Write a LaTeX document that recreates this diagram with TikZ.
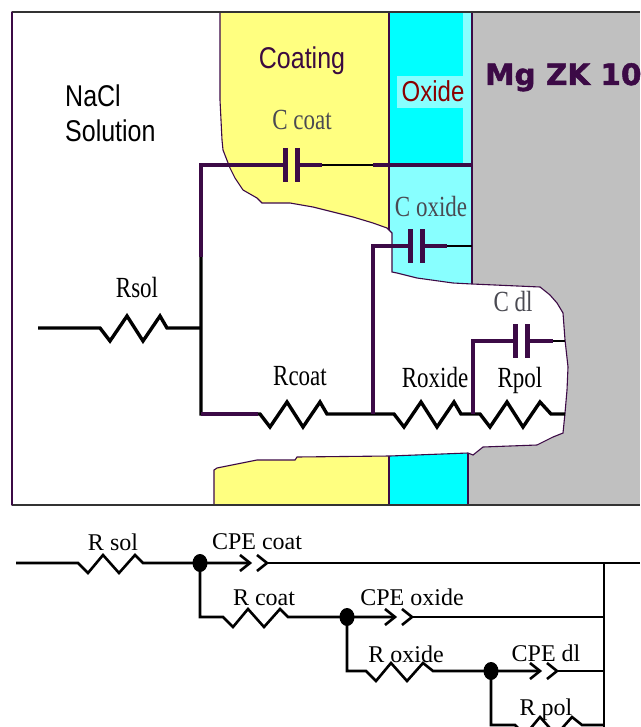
\documentclass[tikz,border=0pt]{standalone}
\usepackage{fontspec}
\usepackage{graphicx}
\usetikzlibrary{shapes.geometric}
\newfontfamily\sansf{Liberation Sans}
\newfontfamily\serf{Liberation Serif}
\newfontfamily\heavyf{DejaVu Sans}[BoldFeatures={FakeBold=1.6}]
% taller-than-wide lettering used in the cross-section
\newcommand\stretchy[2][1.27]{\scalebox{1}[#1]{#2}}
\definecolor{wirep}{HTML}{3C0A46}
\definecolor{coatY}{HTML}{FFFF80}
\definecolor{oxC}{HTML}{00FFFF}
\definecolor{oxL}{HTML}{88FFFF}
\definecolor{metal}{HTML}{C0C0C0}
\definecolor{labgray}{HTML}{4A4A52}
\definecolor{oxtext}{HTML}{8B0000}
\definecolor{coattext}{HTML}{3A0A40}
\begin{document}
\begin{tikzpicture}[x=1pt,y=-1pt,
  bwire/.style={line width=3.4pt, black},
  pwire/.style={line width=4.6pt, wirep},
  twire/.style={line width=2.2pt, black},
  plate/.style={line width=5pt, wirep},
  lwire/.style={line width=2.6pt, black, line join=miter},
  edge/.style={line width=1.1pt, wirep},
  topzig/.style={to path={-- ++(10,13) -- ++(17,-25) -- ++(16,25) -- ++(17,-25) -- (\tikztotarget)}},
  botzig/.style={to path={-- ++(10,10) -- ++(15,-18) -- ++(16,18) -- ++(16,-18) -- (\tikztotarget)}},
  rlab/.style={anchor=base, inner sep=0pt, font=\serf\fontsize{23}{25}\selectfont},
  clab/.style={rlab, text=labgray},
  slab/.style={inner sep=0pt, font=\sansf\fontsize{25}{27}\selectfont},
  blab/.style={anchor=base, inner sep=0pt, font=\serf\fontsize{24}{26}\selectfont},
  dot/.style={fill=black, ellipse, minimum width=15pt, minimum height=18pt, inner sep=0pt},
  capac/.pic={
    \draw[plate] (-6,-17) -- (-6,17);
    \draw[plate] (6,-17) -- (6,17);
    \coordinate (-l) at (-6,0);
    \coordinate (-r) at (6,0);
  },
  cpe/.pic={
    \draw[lwire] (-10,-8) -- (0,0) -- (-10,8);
    \draw[lwire] (7,-8) -- (17,0) -- (7,8);
    \coordinate (-l) at (0,0);
    \coordinate (-r) at (17,0);
  }
]
\useasboundingbox (0,0) rectangle (640,727);
\fill[white] (0,0) rectangle (640,727);

% ---------- cross-section: layers ----------
\fill[metal] (468,12) rectangle (640,505);
\fill[coatY] (214,12) rectangle (389,505);
\fill[oxC] (389,12) rectangle (463,165);
\fill[oxL] (463,12) rectangle (472,165);
\fill[oxL] (389,165) rectangle (472,300);
\fill[oxC] (389,430) rectangle (468,505);
\fill[oxL] (397,76) rectangle (470,108);
\draw[edge] (389,12) -- (389,505);
\draw[edge] (472,12) -- (472,300);
\draw[edge] (468,430) -- (468,505);

% ---------- the pit in coating, oxide and metal ----------
\filldraw[fill=white, draw=wirep, line width=1.1pt]
  (12,12) -- (220,12) -- (220,100) -- (222,140) -- (223,150) -- (230,168)
  -- (235,178) -- (243,190) -- (257,198) -- (262,203) -- (290,203)
  -- (313,207) -- (333,212) -- (353,217) -- (373,223) -- (387,228)
  -- (392,233) -- (392,272) -- (397,273) -- (417,278) -- (453,283)
  -- (472,284) -- (540,287) -- (550,295) -- (557,303) -- (563,313)
  -- (565,340) -- (568,367) -- (567,390) -- (565,413) -- (563,433)
  -- (553,437) -- (537,445) -- (483,447) -- (473,455) -- (468,453)
  -- (390,456) -- (297,457) -- (295,460) -- (257,460) -- (217,468)
  -- (214,470) -- (214,505) -- (12,505) -- cycle;

% ---------- cross-section: equivalent circuit ----------
\coordinate (sIn) at (38,328);
\coordinate (sZa) at (100,328);
\coordinate (sZb) at (167,328);
\coordinate (jL)  at (201,328);
\coordinate (jT)  at (201,165);
\coordinate (jM)  at (201,257);
\coordinate (jB)  at (201,414);
\coordinate (cZa) at (260,414);
\coordinate (cZb) at (327,414);
\coordinate (jO)  at (373,414);
\coordinate (jOT) at (373,246);
\coordinate (oZa) at (394,414);
\coordinate (oZb) at (461,414);
\coordinate (jD)  at (473,414);
\coordinate (jDT) at (473,341);
\coordinate (pZa) at (480,414);
\coordinate (pZb) at (551,414);
\coordinate (pEnd) at (565,414);
\coordinate (tEnd) at (472,165);
\coordinate (oEnd) at (472,246);
\coordinate (dEnd) at (565,341);

\pic (Cc) at (291,165) {capac};
\pic (Co) at (416,246) {capac};
\pic (Cd) at (521,341) {capac};

% solution resistance
\draw[bwire] (sIn) -- (sZa) to[topzig] (sZb) -- (jL);
% branch wires
\draw[bwire] (jM) -- (jB) -- (cZa) to[topzig] (cZb) -- (oZa) to[topzig] (oZb)
  -- (pZa) to[topzig] (pZb) -- (pEnd);
\draw[pwire, line join=miter] (jM) -- (jT) -- (Cc-l);
\draw[pwire] (jB) -- ++(57,0);
\draw[pwire] (Cc-r) -- (322,165);
\draw[twire] (322,165) -- (373,165);
\draw[pwire] (373,165) -- (tEnd);
\draw[pwire, line join=miter] (jO) -- (jOT) -- (Co-l);
\draw[pwire] (Co-r) -- (447,246);
\draw[twire] (447,246) -- (oEnd);
\draw[pwire, line join=miter] (jD) -- (jDT) -- (Cd-l);
\draw[pwire] (Cd-r) -- (553,341);
\draw[twire] (553,341) -- (dEnd);

% ---------- cross-section: labels ----------
\node[slab, anchor=base west] (naclA) at (65,107) {\stretchy[1.2]{NaCl}};
\node[slab, anchor=base west] (naclB) at (65,142) {\stretchy[1.2]{Solution}};
\node[slab, anchor=base, text=coattext] (coatT) at (302,69) {\stretchy[1.2]{Coating}};
\node[slab, anchor=base, text=oxtext, font=\sansf\fontsize{24}{26}\selectfont] (oxT) at (433,102) {\stretchy[1.2]{Oxide}};
\node[anchor=base west, inner sep=0pt, text=wirep, font=\heavyf\bfseries\fontsize{29.5}{31}\selectfont] (mgT) at (485,85) {Mg ZK 10};

\node[rlab] (lRsol) at (137,297) {\stretchy{Rsol}};
\node[rlab] (lRcoat) at (300,385) {\stretchy{Rcoat}};
\node[rlab] (lRox) at (435,387) {\stretchy{Roxide}};
\node[rlab] (lRpol) at (520,387) {\stretchy{Rpol}};
\node[clab] (lCc) at (302,130) {\stretchy{C coat}};
\node[clab] (lCo) at (431,216) {\stretchy{C oxide}};
\node[clab] (lCd) at (513,311) {\stretchy{C dl}};

% ---------- frame ----------
\draw[line width=2pt, black!80] (12,12) -- (640,12);
\draw[line width=2pt, black!80] (12,505) -- (640,505);
\draw[line width=1.4pt, wirep] (12,12) -- (12,505);

% ---------- ladder circuit ----------
\coordinate (b0) at (16,563);
\coordinate (bZa) at (78,563);
\coordinate (bZb) at (143,563);
\node[dot] (d1) at (200,563) {};
\coordinate (bEnd) at (640,563);
\coordinate (busT) at (604,563);
\coordinate (busB) at (604,730);
\coordinate (r2a) at (200,617);
\coordinate (r2Za) at (223,617);
\coordinate (r2Zb) at (288,617);
\node[dot] (d2) at (347,617) {};
\coordinate (r2e) at (604,617);
\coordinate (r3a) at (347,671);
\coordinate (r3Za) at (366,671);
\coordinate (r3Zb) at (433,671);
\node[dot] (d3) at (491,671) {};
\coordinate (r3e) at (604,671);
\coordinate (r4a) at (491,725);
\coordinate (r4Za) at (515,725);
\coordinate (r4Zb) at (582,725);
\coordinate (r4e) at (604,725);

\pic (P1) at (250,563) {cpe};
\pic (P2) at (395,617) {cpe};
\pic (P3) at (540,671) {cpe};

\draw[lwire] (b0) -- (bZa) to[botzig] (bZb) -- (d1.center) -- (P1-l);
\draw[lwire] (P1-r) -- (bEnd);
\draw[lwire] (busT) -- (busB);
\draw[lwire] (d1.center) -- (r2a) -- (r2Za) to[botzig] (r2Zb) -- (d2.center) -- (P2-l);
\draw[lwire] (P2-r) -- (r2e);
\draw[lwire] (d2.center) -- (r3a) -- (r3Za) to[botzig] (r3Zb) -- (d3.center) -- (P3-l);
\draw[lwire] (P3-r) -- (r3e);
\draw[lwire] (d3.center) -- (r4a) -- (r4Za) to[botzig] (r4Zb) -- (r4e);

\node[blab] (tRsol) at (113,550) {R sol};
\node[blab] (tCPEc) at (257,549) {CPE coat};
\node[blab] (tRcoat) at (264,605) {R coat};
\node[blab] (tCPEo) at (412,605) {CPE oxide};
\node[blab] (tRox) at (406,662) {R oxide};
\node[blab] (tCPEd) at (546,661) {CPE dl};
\node[blab] (tRpol) at (546,715) {R pol};
\end{tikzpicture}
\end{document}
